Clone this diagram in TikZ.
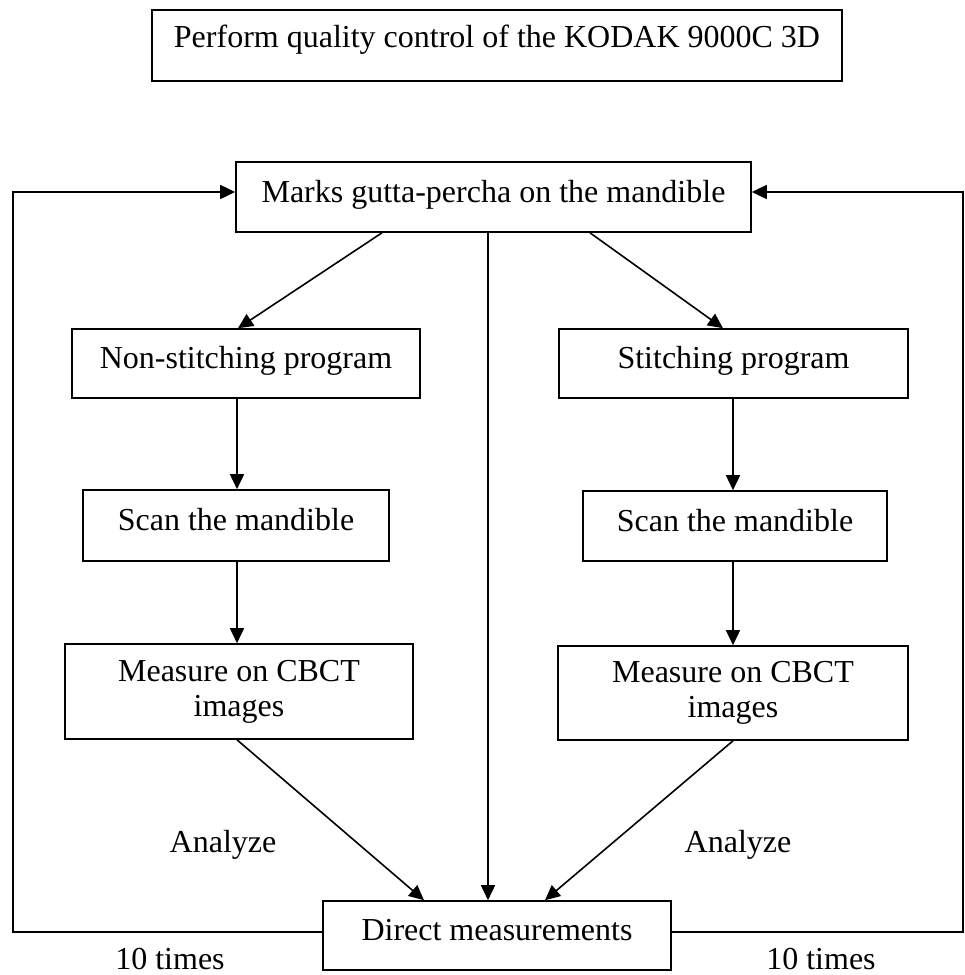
\documentclass[tikz,border=0pt]{standalone}
\usepackage{fontspec}
\setmainfont{Liberation Serif}
\usetikzlibrary{arrows.meta}
\begin{document}
\begin{tikzpicture}[x=1pt,y=-1pt,
  box/.style={draw, line width=1.6pt, inner sep=0pt, text height=17pt, text depth=7pt, font=\fontsize{32}{35}\selectfont},
  mbox/.style={draw, line width=1.6pt, inner sep=0pt, align=center, font=\fontsize{32}{35}\selectfont},
  lbl/.style={inner sep=0pt, anchor=base, font=\fontsize{32}{35}\selectfont},
  arr/.style={line width=1.6pt, -{Triangle[length=15pt,width=14pt]}},
  ln/.style={line width=1.6pt}]
\useasboundingbox (0,0) rectangle (965,975);

\node[box, text depth=14pt, minimum width=690pt, minimum height=71pt] (top) at (497,45.5) {Perform quality control of the KODAK 9000C 3D};
\node[box, minimum width=515pt, minimum height=70pt] (marks) at (493.5,197) {Marks gutta-percha on the mandible};
\node[box, minimum width=348pt, minimum height=69pt] (non) at (246,363.5) {Non-stitching program};
\node[box, minimum width=349pt, minimum height=69pt] (sti) at (733.5,363.5) {Stitching program};
\node[box, minimum width=306pt, minimum height=71pt] (scanl) at (236,525.5) {Scan the mandible};
\node[box, minimum width=304pt, minimum height=70pt] (scanr) at (735,526) {Scan the mandible};
\node[mbox, minimum width=348pt, minimum height=95pt] (measl) at (239,691.5) {Measure on CBCT\\images};
\node[mbox, minimum width=350pt, minimum height=94pt] (measr) at (733,693) {Measure on CBCT\\images};
\node[box, minimum width=348pt, minimum height=69pt] (direct) at (497,935.5) {Direct measurements};

\node[lbl] (anl) at (223,852) {Analyze};
\node[lbl] (anr) at (738,852) {Analyze};
\node[lbl] (tl) at (170,969) {10 times};
\node[lbl] (tr) at (821,969) {10 times};

\coordinate (lb) at (13,932);
\coordinate (rb) at (963,932);

\draw[arr] ([xshift=-111.5pt]marks.south) -- ([xshift=-8pt]non.north);
\draw[arr] ([xshift=96.5pt]marks.south) -- ([xshift=-10.5pt]sti.north);
\draw[arr] ([xshift=-5.5pt]marks.south) -- ([xshift=-9pt]direct.north);

\draw[arr] ([xshift=-9pt]non.south) -- ([xshift=-9pt]non.south |- scanl.north);
\draw[arr] ([xshift=1pt]scanl.south) -- ([xshift=1pt]scanl.south |- measl.north);
\draw[arr] ([xshift=-0.5pt]sti.south) -- ([xshift=-0.5pt]sti.south |- scanr.north);
\draw[arr] ([xshift=-2pt]scanr.south) -- ([xshift=-2pt]scanr.south |- measr.north);

\draw[arr] ([xshift=-2pt]measl.south) -- ([xshift=-73pt]direct.north);
\draw[arr] (measr.south) -- ([xshift=48pt]direct.north);

\draw[arr] ([yshift=3.5pt]direct.west) -- (lb) |- ([yshift=5pt]marks.west);
\draw[arr] ([yshift=3.5pt]direct.east) -- (rb) |- ([yshift=5pt]marks.east);
\end{tikzpicture}
\end{document}
